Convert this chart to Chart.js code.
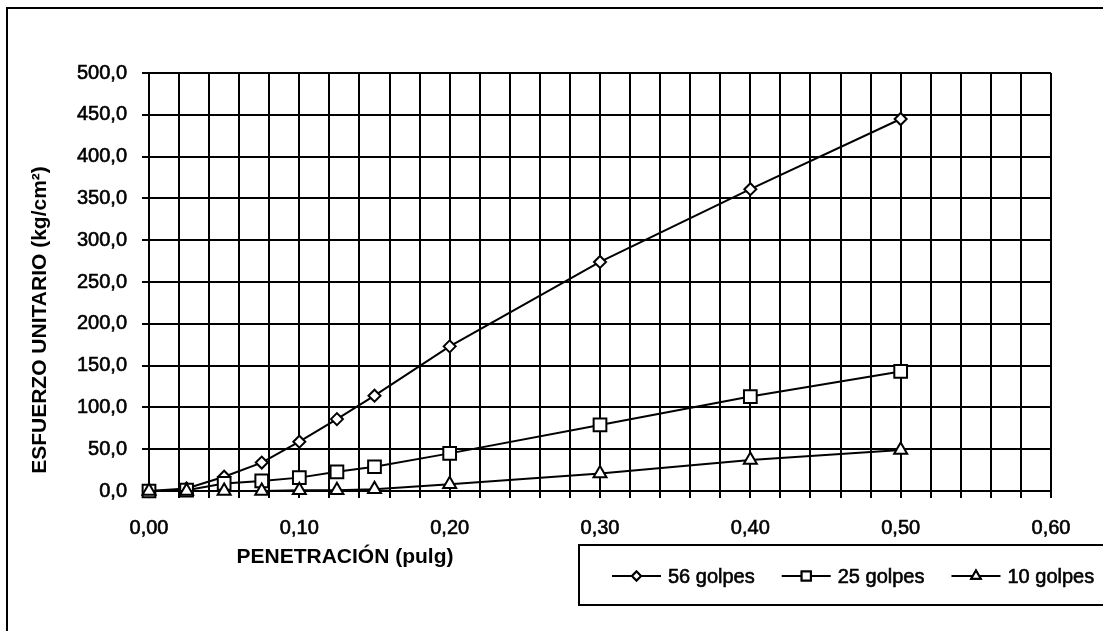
<!DOCTYPE html>
<html>
<head>
<meta charset="utf-8">
<script src="https://cdn.jsdelivr.net/npm/chart.js@4/dist/chart.umd.min.js"></script>
<style>
  html, body { margin: 0; padding: 0; background: #fff; }
  canvas { display: block; }
</style>
</head>
<body>
<canvas id="cbr" width="1103" height="631"></canvas>
<script>
// CBR test: unit stress vs penetration for three compaction energies
const penetration = [0, 0.025, 0.05, 0.075, 0.1, 0.125, 0.15, 0.2, 0.3, 0.4, 0.5];
const golpes56 = [0, 3, 17, 34, 59, 86, 114, 173, 274, 361, 445];
const golpes25 = [0, 1, 9, 12, 16, 23, 29, 45, 79, 113, 143];
const golpes10 = [0, 0, 0, 0, 1, 1, 2, 8, 21, 37, 49];
const seriesNames = ['56 golpes', '25 golpes', '10 golpes'];
const xTitle = 'PENETRACIÓN (pulg)';
const yTitle = 'ESFUERZO UNITARIO (kg/cm²)';

const FONT = "'Liberation Sans', Arial, Helvetica, sans-serif";
Chart.defaults.font.family = FONT;
Chart.defaults.font.size = 20;
Chart.defaults.color = '#000';

const toPoints = vals => vals.map((v, i) => ({ x: penetration[i], y: v }));
const comma = (v, d) => v.toFixed(d).replace('.', ',');

function series(label, vals, style, radius, order) {
  return {
    label, data: toPoints(vals), order,
    borderColor: '#000', borderWidth: 2,
    pointStyle: style, pointRadius: radius, pointHoverRadius: radius,
    pointBackgroundColor: '#fff', pointBorderColor: '#000', pointBorderWidth: 2,
    fill: false, tension: 0, clip: false
  };
}

// white page, outer frame, axis titles and the boxed legend
const decorations = {
  id: 'decorations',
  beforeDraw(chart) {
    const ctx = chart.ctx;
    ctx.save();
    ctx.fillStyle = '#fff';
    ctx.fillRect(0, 0, chart.width, chart.height);
    ctx.restore();
  },
  afterDraw(chart) {
    const ctx = chart.ctx;
    ctx.save();
    ctx.strokeStyle = '#000';
    ctx.lineWidth = 2;
    ctx.strokeRect(7, 8, chart.width + 20, chart.height + 20);

    ctx.fillStyle = '#000';
    ctx.font = 'bold 21px ' + FONT;
    ctx.textAlign = 'center';
    ctx.textBaseline = 'middle';
    ctx.fillText(xTitle, 345, 557);
    ctx.save();
    ctx.translate(40, 320);
    ctx.rotate(-Math.PI / 2);
    ctx.fillText(yTitle, 0, 0);
    ctx.restore();

    // legend box
    ctx.lineWidth = 2;
    ctx.strokeRect(579, 545, chart.width, 60);
    const radii = [4.5, 6.5, 5.5];
    ctx.font = '20px ' + FONT;
    ctx.textAlign = 'left';
    let x = 612;
    const y = 576;
    chart.data.datasets.forEach((ds, i) => {
      ctx.strokeStyle = '#000';
      ctx.lineWidth = 2;
      ctx.beginPath();
      ctx.moveTo(x, y);
      ctx.lineTo(x + 49, y);
      ctx.stroke();
      ctx.fillStyle = '#fff';
      Chart.helpers.drawPoint(ctx, { pointStyle: ds.pointStyle, radius: radii[i], rotation: 0, borderWidth: 2 }, x + 24.5, y);
      ctx.fill();
      ctx.stroke();
      ctx.fillStyle = '#000';
      ctx.lineWidth = 0.6;
      ctx.fillText(ds.label, x + 56, y + 1);
      ctx.strokeText(ds.label, x + 56, y + 1);
      x += 56 + ctx.measureText(ds.label).width + 27;
    });
    ctx.restore();
  }
};

new Chart(document.getElementById('cbr'), {
  type: 'line',
  data: {
    datasets: [
      series(seriesNames[0], golpes56, 'rectRot', 6, 3),
      series(seriesNames[1], golpes25, 'rect', 9, 2),
      series(seriesNames[2], golpes10, 'triangle', 7.5, 1)
    ]
  },
  options: {
    responsive: false,
    animation: false,
    events: [],
    layout: { padding: { top: 73, right: 52, bottom: 0, left: 0 } },
    plugins: { legend: { display: false }, tooltip: { enabled: false } },
    scales: {
      x: {
        type: 'linear', min: 0, max: 0.6,
        afterFit: s => { s.height = 140; },
        grid: { color: '#000', lineWidth: 2, tickLength: 7, tickColor: '#000', tickWidth: 2 },
        border: { color: '#000', width: 2 },
        ticks: {
          stepSize: 0.02, autoSkip: false, maxRotation: 0, padding: 18,
          textStrokeColor: '#000', textStrokeWidth: 0.6,
          callback: v => Math.abs(Math.round(v * 10) - v * 10) < 1e-6 ? comma(v, 2) : ''
        }
      },
      y: {
        min: 0, max: 500,
        afterFit: s => { s.width = 149; },
        grid: { color: '#000', lineWidth: 2, tickLength: 7, tickColor: '#000', tickWidth: 2 },
        border: { color: '#000', width: 2 },
        ticks: {
          stepSize: 50, padding: 15,
          textStrokeColor: '#000', textStrokeWidth: 0.6,
          callback: v => comma(v, 1)
        }
      }
    }
  },
  plugins: [decorations]
});
</script>
</body>
</html>
